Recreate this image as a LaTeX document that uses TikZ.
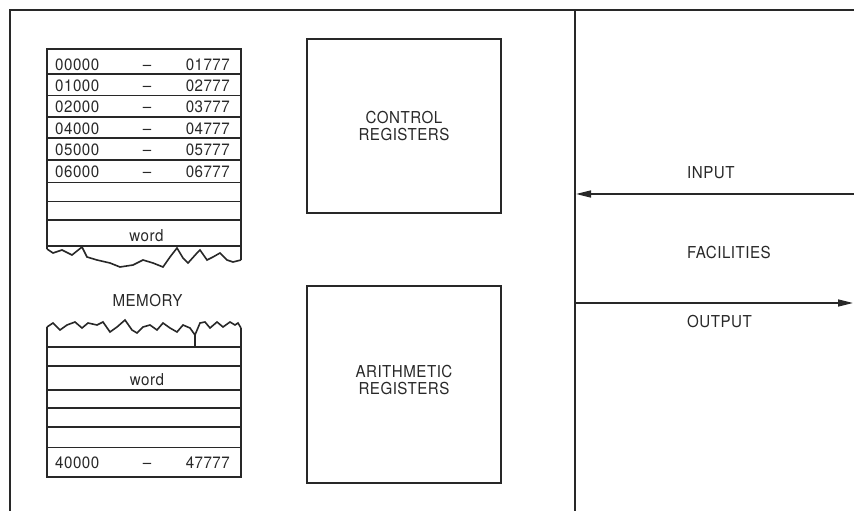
\documentclass[tikz,border=0pt]{standalone}
\usepackage{fontspec}
\setmainfont{TeX Gyre Heros}[LetterSpace=3, FakeStretch=0.92]
\usetikzlibrary{arrows.meta,positioning}
\definecolor{ink}{RGB}{40,40,40}

\begin{document}
\begin{tikzpicture}[x=1bp, y=-1bp, color=ink,
    lbl/.style={font=\fontsize{16.5}{17.5}\selectfont, text=ink, inner sep=0pt},
    frame/.style={line width=2.2bp},
    rule/.style={line width=1.6bp},
    regbox/.style={draw=ink, line width=1.9bp, anchor=north west, minimum width=194bp,
                   align=center, font=\fontsize{16.5}{17.5}\selectfont},
    arr/.style={-{Triangle[length=15bp,width=7bp]}, line width=1.6bp}]
\useasboundingbox (0,0) rectangle (854,511);

% outer frame and divider
\draw[frame] (10,511) -- (10,10) -- (854,10);
\draw[frame] (575,10) -- (575,511);

% memory, upper part
\draw[rule] (47,249) -- (47,49) -- (241,49) -- (241,260);
\foreach \y in {74,95.5,117,138,160,182.5,201.5,220,246}
  \draw[rule] (47,\y) -- (241,\y);
\foreach \a/\b/\y [count=\i] in {00000/01777/71, 01000/02777/92, 02000/03777/113,
                                  04000/04777/134.5, 05000/05777/156, 06000/06777/178}{
  \node[lbl, anchor=base west] (lo\i) at (55,\y) {\a};
  \node[lbl, anchor=base] (dash\i) at (147,\y) {–};
  \node[lbl, anchor=base east] (hi\i) at (230,\y) {\b};
}
\node[lbl, anchor=base] (word1) at (146.5,242) {word};
\draw[rule] (47,249) -- (53,253) -- (62,250) -- (72,255) -- (82,247) -- (87,257)
  -- (97,260) -- (110,263) -- (120,267) -- (133,265) -- (143,260) -- (153,263)
  -- (163,267) -- (170,257) -- (177,248) -- (183,258) -- (188,263) -- (197,253)
  -- (200,250) -- (207,260) -- (213,257) -- (220,253) -- (227,260) -- (233,262)
  -- (241,260);

\node[lbl, anchor=base] (mem) at (147.5,307) {MEMORY};

% memory, lower part
\draw[rule] (47,327) -- (53,323) -- (60,330) -- (67,325) -- (75,322) -- (82,328)
  -- (88,323) -- (97,325) -- (103,322) -- (110,332) -- (117,327) -- (125,320)
  -- (132,330) -- (137,333) -- (143,327) -- (150,325) -- (157,330) -- (163,323)
  -- (170,328) -- (177,332) -- (183,325) -- (190,328) -- (195,335) -- (200,323)
  -- (205,322) -- (210,328) -- (217,322) -- (223,327) -- (230,322) -- (235,325)
  -- (238,323) -- (241,328);
\draw[rule] (195,335) -- (195,347);
\draw[rule] (47,327) -- (47,477) -- (241,477) -- (241,328);
\foreach \y in {347,366,390,408,427,447.5}
  \draw[rule] (47,\y) -- (241,\y);
\node[lbl, anchor=base] (word2) at (147,385) {word};
\node[lbl, anchor=base west] (lo7) at (55,468) {40000};
\node[lbl, anchor=base] (dash7) at (147,468) {–};
\node[lbl, anchor=base east] (hi7) at (230,468) {47777};

% registers
\node[regbox, minimum height=174bp] (ctrl) at (306,38) {CONTROL\\REGISTERS};
\node[regbox, minimum height=197bp] (arith) at (306,285) {};
\node[lbl, align=center] (arithtxt) at ([yshift=4.5bp]arith.center) {ARITHMETIC\\REGISTERS};

% facilities
\coordinate (inR) at (854,194);
\coordinate (inL) at (576,194);
\coordinate (outL) at (576,303);
\coordinate (outR) at (853,303);
\draw[arr] (inR) -- (inL);
\draw[arr] (outL) -- (outR);
\node[lbl, anchor=base west] (in) at (687,179) {INPUT};
\node[lbl, anchor=base west] (fac) at (687,258.5) {FACILITIES};
\node[lbl, anchor=base west] (out) at (687,328) {OUTPUT};
\end{tikzpicture}
\end{document}
